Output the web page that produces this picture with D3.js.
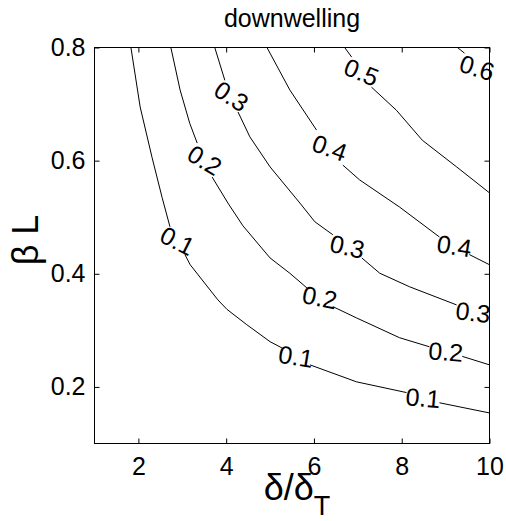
<!DOCTYPE html>
<html><head><meta charset="utf-8">
<script src="https://cdn.jsdelivr.net/npm/d3@7"></script>
<style>
body{margin:0;background:#fff}
svg{display:block}
text{font-family:"Liberation Sans",Arial,Helvetica,sans-serif;fill:#000}
</style>
</head><body>
<svg id="c" width="506" height="521"></svg>
<script>
// ---- data ----
const xTicks = [2, 4, 6, 8, 10];
const yTicks = [0.2, 0.4, 0.6, 0.8];
const xDomain = [1, 10];
const yDomain = [0.1, 0.8];
const titleText = "downwelling";

// contour lines: [delta/deltaT, beta L]; gaps = index after which a label breaks the line
const contour01 = [[1.83,0.80],[2.04,0.695],[2.31,0.606],[2.54,0.535],[2.72,0.483],[3.06,0.434],[3.18,0.416],[3.81,0.354],[4.02,0.337],[4.47,0.310],[5.00,0.280],[5.27,0.269],[5.91,0.239],[6.97,0.209],[8.11,0.190],[8.86,0.172],[10,0.154]];
const gaps01 = [4, 11, 14];
const contour02 = [[2.74,0.80],[2.95,0.725],[3.17,0.666],[3.34,0.631],[3.68,0.571],[4.04,0.525],[4.38,0.485],[5.00,0.428],[5.45,0.401],[5.84,0.375],[6.43,0.342],[6.97,0.322],[7.95,0.287],[8.63,0.271],[9.38,0.254],[10,0.239]];
const gaps02 = [3, 9, 13];
const contour03 = [[3.74,0.80],[3.97,0.742],[4.27,0.686],[4.54,0.642],[5.00,0.589],[5.68,0.525],[6.02,0.492],[6.43,0.469],[7.09,0.428],[7.50,0.401],[8.18,0.377],[9.25,0.345],[10,0.319]];
const gaps03 = [1, 7, 11];
const contour04 = [[4.93,0.80],[5.45,0.725],[6.06,0.654],[6.66,0.592],[7.04,0.566],[7.95,0.518],[8.86,0.465],[9.54,0.434],[10,0.416]];
const gaps04 = [2, 6];
const contour05 = [[6.70,0.80],[6.86,0.783],[7.31,0.730],[7.88,0.689],[8.47,0.636],[9.25,0.589],[10,0.543]];
const gaps05 = [1];
const contour06 = [[9.27,0.80],[9.43,0.790],[10,0.739]];
const gaps06 = [1];
const levels = ["0.1","0.2","0.3","0.4","0.5","0.6"];

const contours = [
  {level: levels[0], pts: contour01, gaps: gaps01},
  {level: levels[1], pts: contour02, gaps: gaps02},
  {level: levels[2], pts: contour03, gaps: gaps03},
  {level: levels[3], pts: contour04, gaps: gaps04},
  {level: levels[4], pts: contour05, gaps: gaps05},
  {level: levels[5], pts: contour06, gaps: gaps06}
];

// ---- drawing ----
const svg = d3.select("#c");
const L = 94.5, R = 489.5, T = 47.5, B = 443.5;
const x = d3.scaleLinear().domain(xDomain).range([L, R]);
const y = d3.scaleLinear().domain(yDomain).range([B, T]);
const FONT = "'Liberation Sans', Arial, Helvetica, sans-serif";
const FS = 25;

function styleAxis(g){
  g.select(".domain").remove();
  g.attr("font-family", FONT).attr("font-size", FS);
  g.selectAll(".tick line").attr("stroke", "#000");
}

svg.append("g").attr("transform", `translate(0,${B})`)
  .call(d3.axisBottom(x).tickValues(xTicks).tickSizeInner(-5).tickSizeOuter(0).tickPadding(14).tickFormat(d3.format("d")))
  .call(styleAxis);
svg.append("g").attr("transform", `translate(0,${T})`)
  .call(d3.axisTop(x).tickValues(xTicks).tickSizeInner(-5).tickSizeOuter(0).tickFormat(""))
  .call(styleAxis);
svg.append("g").attr("transform", `translate(${L},0)`)
  .call(d3.axisLeft(y).tickValues(yTicks).tickSizeInner(-5).tickSizeOuter(0).tickPadding(9).tickFormat(d3.format(".1f")))
  .call(styleAxis);
svg.append("g").attr("transform", `translate(${R},0)`)
  .call(d3.axisRight(y).tickValues(yTicks).tickSizeInner(-5).tickSizeOuter(0).tickFormat(""))
  .call(styleAxis);

// contours
const line = d3.line().x(d => x(d[0])).y(d => y(d[1]));
const cg = svg.append("g");
const K = 0.27;
contours.forEach(c => {
  let start = 0;
  const segs = [];
  c.gaps.forEach(g => { segs.push(c.pts.slice(start, g + 1)); start = g + 1; });
  segs.push(c.pts.slice(start));
  segs.filter(s => s.length > 1).forEach(s => {
    cg.append("path").attr("d", line(s)).attr("fill", "none").attr("stroke", "#000").attr("stroke-width", 1);
  });
  c.gaps.forEach(g => {
    const a = c.pts[g], b = c.pts[g + 1];
    const x0 = x(a[0]), y0 = y(a[1]), x1 = x(b[0]), y1 = y(b[1]);
    const cx = (x0 + x1) / 2, cy = (y0 + y1) / 2;
    const ang = Math.atan2((y1 - y0) * K, x1 - x0) * 180 / Math.PI;
    cg.append("text")
      .attr("transform", `translate(${cx},${cy}) rotate(${ang})`)
      .attr("text-anchor", "middle").attr("dominant-baseline", "central")
      .attr("font-size", FS).text(c.level);
  });
});

// frame
svg.append("rect").attr("x", L).attr("y", T).attr("width", R - L).attr("height", B - T)
  .attr("fill", "none").attr("stroke", "#000").attr("stroke-width", 1);

// title
svg.append("text").attr("x", (L + R) / 2).attr("y", 27).attr("text-anchor", "middle")
  .attr("font-size", 25).text(titleText);

// axis labels
svg.append("text").attr("transform", "translate(38,240) rotate(-90)").attr("text-anchor", "middle")
  .attr("font-size", 36).text("β L");
const xl = svg.append("text").attr("x", 297).attr("y", 500).attr("text-anchor", "middle").attr("font-size", 36);
xl.append("tspan").text("δ/δ");
xl.append("tspan").attr("dy", 15).attr("font-size", 27).text("T");
</script>
</body></html>
